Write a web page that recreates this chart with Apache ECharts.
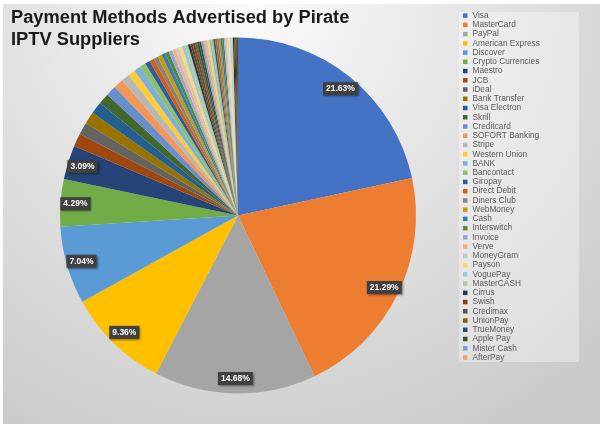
<!DOCTYPE html>
<html>
<head>
<meta charset="UTF-8">
<title>payment_methods_pie</title>
<script src="https://cdn.jsdelivr.net/npm/echarts@6/dist/echarts.min.js"></script>
<style>
  html, body { margin: 0; padding: 0; background: #fff; }
  #main { width: 600px; height: 427px; }
</style>
</head>
<body>
<div id="main"></div>
<script type="text/javascript">
// methods shown in the legend (in slice order, clockwise from 12 o'clock)
var methods = ['Visa', 'MasterCard', 'PayPal', 'American Express', 'Discover', 'Crypto Currencies',
  'Maestro', 'JCB', 'iDeal', 'Bank Transfer', 'Visa Electron', 'Skrill', 'Creditcard',
  'SOFORT Banking', 'Stripe', 'Western Union', 'BANK', 'Bancontact', 'Giropay', 'Direct Debit',
  'Diners Club', 'WebMoney', 'Cash', 'Interswitch', 'Invoice', 'Verve', 'MoneyGram', 'Payson',
  'VoguePay', 'MasterCASH', 'Cirrus', 'Swish', 'Credimax', 'UnionPay', 'TrueMoney', 'Apple Pay',
  'Mister Cash', 'AfterPay'];

// share in % (labelled ones read directly, the rest)
var shares = [21.63, 21.29, 14.68, 9.36, 7.04, 4.29,
  3.09, 1.20, 1.10, 1.10, 1.10, 1.00, 0.95,
  0.90, 0.75, 0.65, 0.60, 0.55, 0.45, 0.42,
  0.40, 0.38, 0.36, 0.34, 0.33, 0.32, 0.31, 0.30,
  0.29, 0.28, 0.22, 0.21, 0.20, 0.20, 0.19, 0.19,
  0.18, 0.18];

// thin slices past the end of the (cut off) legend
var otherShares = [0.19, 0.19, 0.18, 0.18, 0.17, 0.17, 0.16, 0.16, 0.15, 0.15,
  0.14, 0.14, 0.14, 0.13, 0.13, 0.13, 0.12, 0.12, 0.11, 0.11];

// office palette, cycling through shades
var palette = ['#4472C4', '#ED7D31', '#A5A5A5', '#FFC000', '#5B9BD5', '#70AD47',
  '#264478', '#9E480E', '#636363', '#997300', '#255E91', '#43682B',
  '#698ED0', '#F1975A', '#B7B7B7', '#FFCD33', '#7CAFDD', '#8CC168',
  '#335AA1', '#D26012', '#848484', '#CC9A00', '#327DC2', '#5A8A39',
  '#8FAADC', '#F4B183', '#C9C9C9', '#FFD966', '#9DC3E6', '#A9D18E',
  '#203864', '#843C0C', '#525252', '#7F6000', '#1F4E79', '#385723',
  '#7C9CD6', '#F2A46F', '#C0C0C0', '#FFD34D', '#8CB9E2', '#9AC97B',
  '#2F5597', '#C55A11', '#7B7B7B', '#BF9000', '#2E75B6', '#548235',
  '#A2B9E2', '#F6BE98', '#D2D2D2', '#FFDF80', '#ADCDEA', '#B7D6A3',
  '#1B2E4F', '#5F2B08', '#424242', '#664D00'];

var pieData = [];
var labelData = [];
for (var i = 0; i < methods.length; i++) {
  pieData.push({ name: methods[i], value: shares[i] });
  labelData.push({ name: methods[i], value: shares[i], label: { show: shares[i] >= 3 } });
}
for (var j = 0; j < otherShares.length; j++) {
  var nm = 'Other ' + (methods.length + j + 1);
  pieData.push({ name: nm, value: otherShares[j] });
  labelData.push({ name: nm, value: otherShares[j], label: { show: false } });
}

var myChart = echarts.init(document.getElementById('main'));

option = {
  animation: false,
  backgroundColor: '#ffffff',
  color: palette,
  graphic: [
    {
      type: 'rect',
      z: -10,
      shape: { x: 3, y: 4, width: 597, height: 420 },
      style: {
        fill: new echarts.graphic.RadialGradient(0.42, 0, 1.2, [
          { offset: 0, color: '#fbfbfb' },
          { offset: 0.45, color: '#e4e4e4' },
          { offset: 1, color: '#c9c9c9' }
        ])
      }
    },
    {
      type: 'rect',
      z: -5,
      shape: { x: 459, y: 12, width: 120, height: 350 },
      style: { fill: 'rgba(255,255,255,0.35)' }
    }
  ],
  title: {
    text: 'Payment Methods Advertised by Pirate\nIPTV Suppliers',
    left: 11,
    top: 7,
    padding: 0,
    textStyle: {
      fontFamily: 'Liberation Sans',
      fontSize: 18.3,
      fontWeight: 'bold',
      color: '#1a1a1a',
      lineHeight: 22
    }
  },
  legend: {
    orient: 'vertical',
    left: 463,
    top: 11,
    padding: 0,
    itemGap: 0,
    itemWidth: 4.5,
    itemHeight: 4.5,
    icon: 'rect',
    selectedMode: false,
    data: methods,
    textStyle: {
      fontFamily: 'Liberation Sans',
      fontSize: 8.3,
      lineHeight: 9.24,
      color: '#595959'
    }
  },
  series: [
    {
      name: 'Payment Methods',
      type: 'pie',
      center: [238, 215.5],
      radius: [0, 178],
      startAngle: 90,
      clockwise: true,
      avoidLabelOverlap: false,
      label: { show: false },
      labelLine: { show: false },
      itemStyle: { borderWidth: 0 },
      emphasis: { disabled: true },
      data: pieData
    },
    {
      // transparent ring, only carries the data labels near the outer edge
      name: 'labels',
      type: 'pie',
      silent: true,
      center: [238, 215.5],
      radius: [142, 178],
      startAngle: 90,
      clockwise: true,
      avoidLabelOverlap: false,
      itemStyle: { color: 'rgba(0,0,0,0)', borderWidth: 0 },
      labelLine: { show: false },
      emphasis: { disabled: true },
      label: {
        position: 'inside',
        formatter: function (p) { return p.value.toFixed(2) + '%'; },
        fontFamily: 'Liberation Sans',
        fontSize: 8.5,
        fontWeight: 'bold',
        color: '#ffffff',
        lineHeight: 9,
        backgroundColor: '#404040',
        padding: [2, 3],
        shadowColor: 'rgba(0,0,0,0.45)',
        shadowBlur: 2,
        shadowOffsetX: 1,
        shadowOffsetY: 1
      },
      data: labelData
    }
  ]
};
myChart.setOption(option);
</script>
</body>
</html>
